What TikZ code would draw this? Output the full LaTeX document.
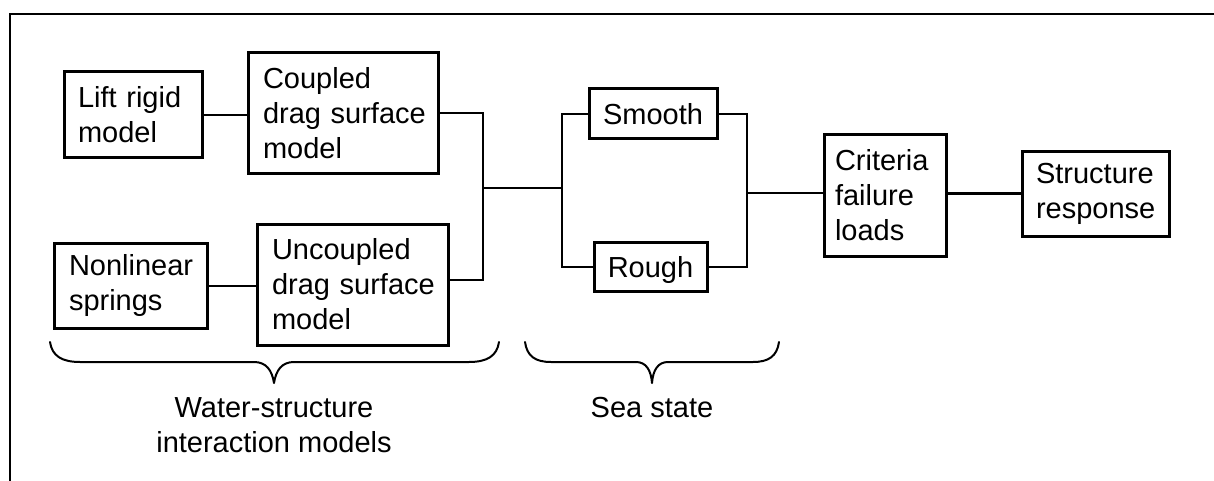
\documentclass[tikz,border=0pt]{standalone}
\usepackage{fontspec}
\setmainfont{Liberation Sans}
\hyphenpenalty=10000
\exhyphenpenalty=10000
\begin{document}
\begin{tikzpicture}[x=1pt,y=-1pt,
  every node/.style={font=\fontsize{29}{35}\selectfont},
  box/.style={draw, line width=3pt, inner ysep=0pt, align=left},
  cbox/.style={draw, line width=3pt, inner sep=0pt, align=center, text depth=0pt},
  conn/.style={line width=2pt},
  heavy/.style={line width=3pt},
  bracket/.style={line width=2pt, line join=round, line cap=round},
  frame/.style={line width=2pt}]
\useasboundingbox (0,0) rectangle (1214,481);

% outer frame (top and left edges)
\draw[frame] (1214,14) -- (10,14) -- (10,481);

% water-structure interaction models
\node[box, inner xsep=14pt, text width=110pt, minimum height=86pt] (lift) at (133,115) {Lift rigid\\model};
\node[box, inner xsep=15pt, text width=160pt, minimum height=121pt] (coupled) at (343,113.5) {Coupled\\drag~surface\\model};
\node[box, inner xsep=15pt, text width=123pt, minimum height=85pt] (nonlin) at (130.5,285.5) {Nonlinear\\springs};
\node[box, inner xsep=15pt, text width=161pt, minimum height=121pt] (uncoupled) at (352.5,284.5) {Uncoupled\\drag~surface\\model};

% sea state
\node[cbox, minimum width=128pt, minimum height=50pt] (smooth) at (653,114) {Smooth};
\node[cbox, minimum width=113pt, minimum height=49pt] (rough) at (650.5,266.5) {Rough};

% outcome
\node[box, inner xsep=11pt, text width=100pt, minimum height=121pt] (criteria) at (885,195.5) {Criteria\\failure\\loads};
\node[box, inner xsep=14pt, text width=119pt, minimum height=84pt] (structure) at (1095.5,194) {Structure\\response};

% junction points
\coordinate (jl) at (483,188);
\coordinate (jr) at (562,188);
\coordinate (kr) at (747,193);

% connectors
\draw[conn] (lift.east) -- (lift.east -| coupled.west);
\draw[conn] (nonlin.east) -- (nonlin.east -| uncoupled.west);
\draw[conn] (coupled.east) -| (jl) |- ([yshift=4.5pt]uncoupled.east);
\draw[conn] (jl) -- (jr);
\draw[conn] (smooth.west) -| (jr) |- (rough.west);
\draw[conn] (smooth.east) -| (kr) |- (rough.east);
\draw[conn] (kr) -- (kr -| criteria.west);
\draw[heavy] (criteria.east |- kr) -- (kr -| structure.west);

% braces
\draw[bracket] (50,342) .. controls (52,356) and (62,362) .. (80,362)
  -- (254,362) .. controls (266,362) and (272,370) .. (274,383)
  .. controls (276,370) and (282,362) .. (294,362)
  -- (469,362) .. controls (487,362) and (497,356) .. (499,342);
\draw[bracket] (525,342) .. controls (527,356) and (535,362) .. (551,362)
  -- (636,362) .. controls (646,362) and (651,370) .. (652,383)
  .. controls (653,370) and (658,362) .. (668,362)
  -- (753,362) .. controls (769,362) and (777,356) .. (779,342);

% brace labels
\node[align=center, inner sep=0pt] (wsi) at (274,425) {Water-structure\\interaction models};
\node[anchor=base, inner sep=0pt] (sea) at (652,417) {Sea state};
\end{tikzpicture}
\end{document}
